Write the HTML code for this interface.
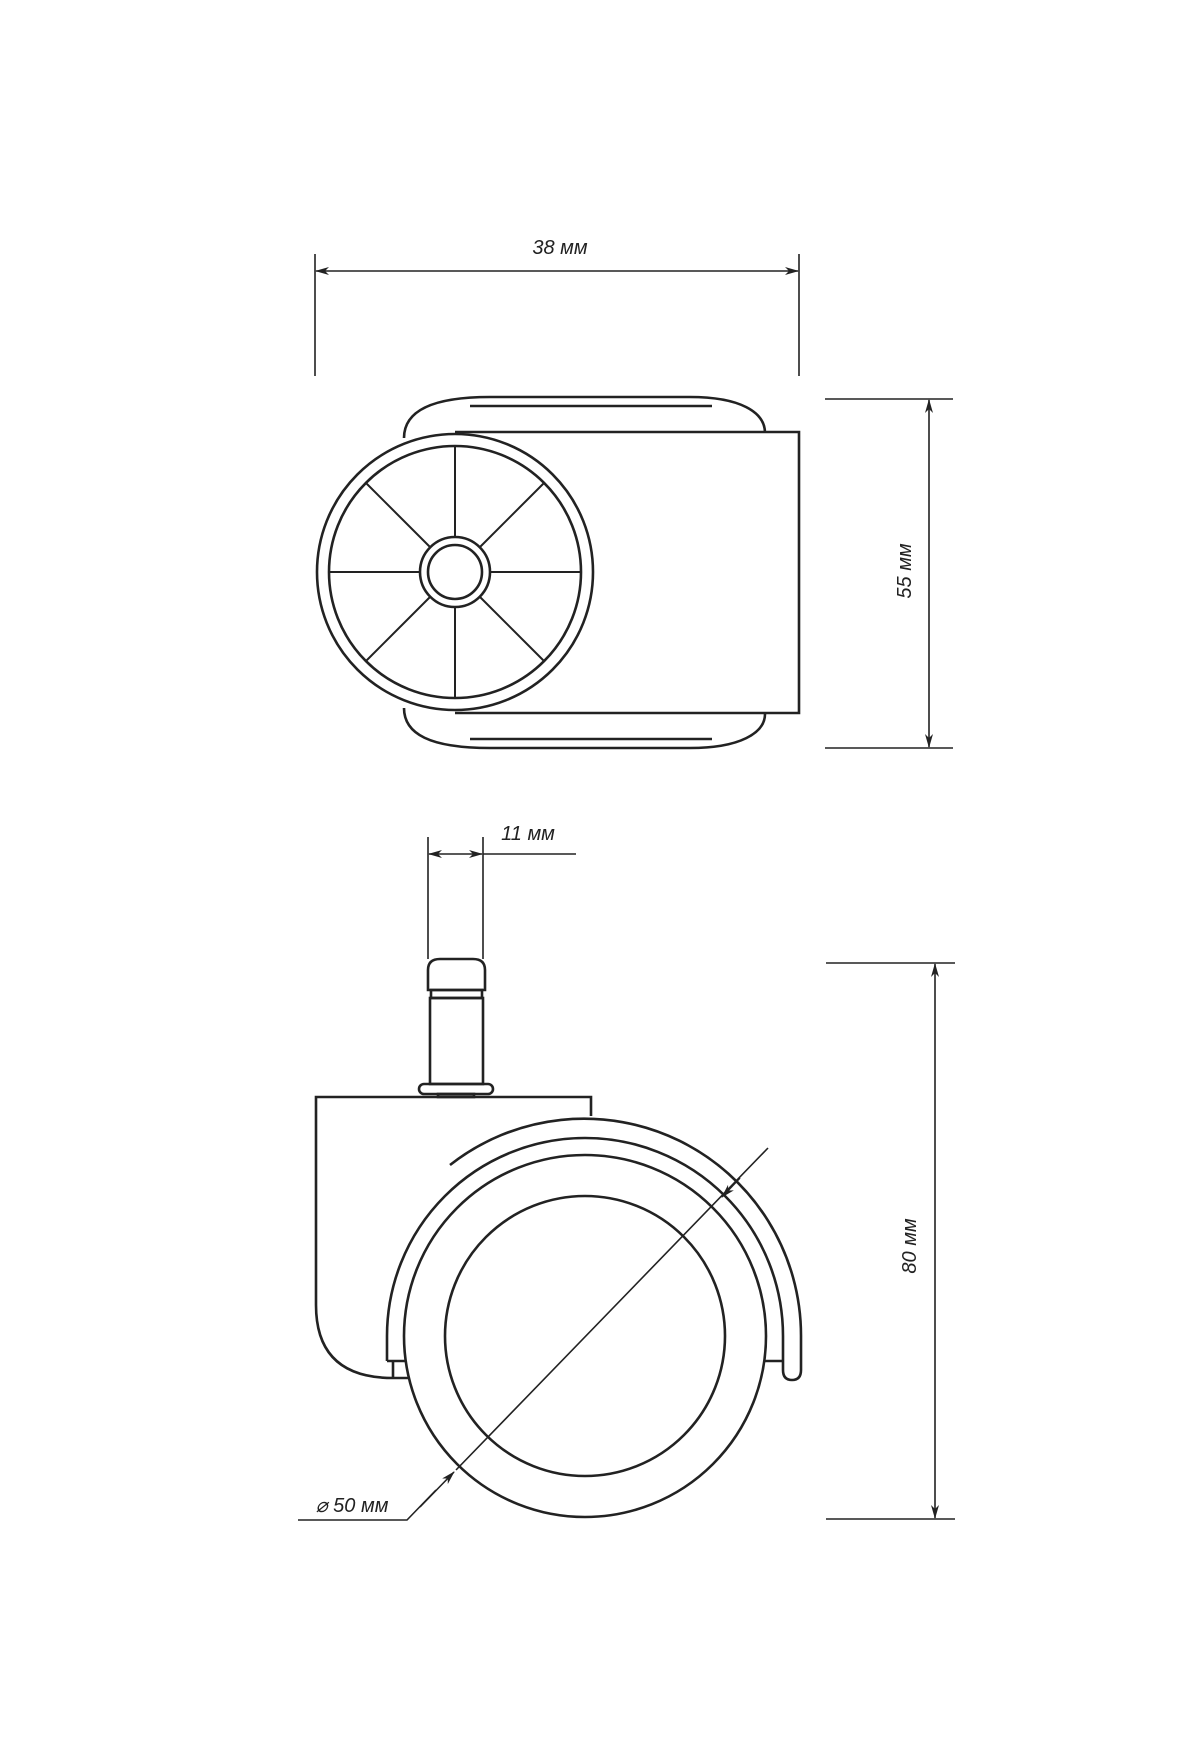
<!DOCTYPE html>
<html><head><meta charset="utf-8"><style>
html,body{margin:0;padding:0;background:#fff}
svg{display:block}
text{font-family:"Liberation Sans",sans-serif;font-style:italic;font-size:20px;fill:#222}
</style></head><body>
<svg width="1200" height="1760" viewBox="0 0 1200 1760" xmlns="http://www.w3.org/2000/svg">
<defs>
<marker id="ar" viewBox="0 0 14 8" refX="13" refY="4" markerWidth="14" markerHeight="8" markerUnits="userSpaceOnUse" orient="auto-start-reverse">
<path d="M0,0 L14,4 L0,8 L4,4 Z" fill="#222"/></marker>
</defs>
<g fill="none" stroke="#222" stroke-width="1.6">
<line x1="315" y1="254" x2="315" y2="376"/>
<line x1="799" y1="254" x2="799" y2="376"/>
<line x1="316" y1="271" x2="798" y2="271" marker-start="url(#ar)" marker-end="url(#ar)"/>
<line x1="825" y1="399" x2="953" y2="399"/>
<line x1="825" y1="748" x2="953" y2="748"/>
<line x1="929" y1="400" x2="929" y2="747" marker-start="url(#ar)" marker-end="url(#ar)"/>
<line x1="428" y1="837" x2="428" y2="959"/>
<line x1="483" y1="837" x2="483" y2="959"/>
<line x1="429" y1="854" x2="482" y2="854" marker-start="url(#ar)" marker-end="url(#ar)"/>
<line x1="483" y1="854" x2="576" y2="854"/>
<line x1="826" y1="963" x2="955" y2="963"/>
<line x1="826" y1="1519" x2="955" y2="1519"/>
<line x1="935" y1="964" x2="935" y2="1518" marker-start="url(#ar)" marker-end="url(#ar)"/>
<line x1="768" y1="1148" x2="456" y2="1470"/>
<line x1="740" y1="1178" x2="722" y2="1197" marker-end="url(#ar)"/>
<line x1="420" y1="1507" x2="454" y2="1472" marker-end="url(#ar)"/>
<polyline points="298,1520 407,1520 436,1490"/>
</g>
<g fill="none" stroke="#222" stroke-width="2.6">
<path d="M404,438 C404,412 430,397 490,397 L690,397 C740,397 765,412 765,433"/>
<path d="M470,406 L712,406"/>
<path d="M404,708 C404,734 430,748 490,748 L690,748 C740,748 765,733 765,714"/>
<path d="M470,739 L712,739"/>
<path d="M455,432 L799,432 L799,713 L455,713"/>
<circle cx="455" cy="572" r="138" fill="#fff"/>
<circle cx="455" cy="572" r="126"/>
<circle cx="455" cy="572" r="35"/>
<circle cx="455" cy="572" r="27"/>
</g>
<g stroke="#222" stroke-width="2">
<line x1="455" y1="537" x2="455" y2="446"/><line x1="455" y1="607" x2="455" y2="698"/>
<line x1="420" y1="572" x2="329" y2="572"/><line x1="490" y1="572" x2="581" y2="572"/>
<line x1="430" y1="547" x2="366" y2="483"/><line x1="480" y1="547" x2="544" y2="483"/>
<line x1="430" y1="597" x2="366" y2="661"/><line x1="480" y1="597" x2="544" y2="661"/>
</g>
<g fill="none" stroke="#222" stroke-width="2.6">
<path d="M428,990 L428,970 Q428,959 440,959 L473,959 Q485,959 485,970 L485,990 Z"/>
<rect x="431" y="990" width="51" height="8"/>
<rect x="430" y="998" width="53" height="86"/>
<rect x="419" y="1084" width="74" height="10" rx="5"/>
<rect x="438" y="1094" width="36" height="3"/>
<path d="M591,1116 L591,1097 L316,1097 L316,1305 Q316,1378 393,1378 L410,1378"/>
<path d="M393,1378 L393,1361"/>
<path d="M450,1165 A217,217 0 0 1 801,1336 L801,1370 Q801,1380 792,1380 Q783,1380 783,1370 L783,1336"/>
<path d="M387,1361 L387,1336 A198,198 0 0 1 783,1336"/>
<path d="M387,1361 L405,1361 M765,1361 L783,1361"/>
<circle cx="585" cy="1336" r="181"/>
<circle cx="585" cy="1336" r="140"/>
</g>
<text x="560" y="254" text-anchor="middle">38 мм</text>
<text x="0" y="0" text-anchor="middle" transform="translate(911,571) rotate(-90)">55 мм</text>
<text x="528" y="840" text-anchor="middle">11 мм</text>
<text x="0" y="0" text-anchor="middle" transform="translate(916,1246) rotate(-90)">80 мм</text>
<text x="352" y="1512" text-anchor="middle">⌀ 50 мм</text>
</svg>
</body></html>
